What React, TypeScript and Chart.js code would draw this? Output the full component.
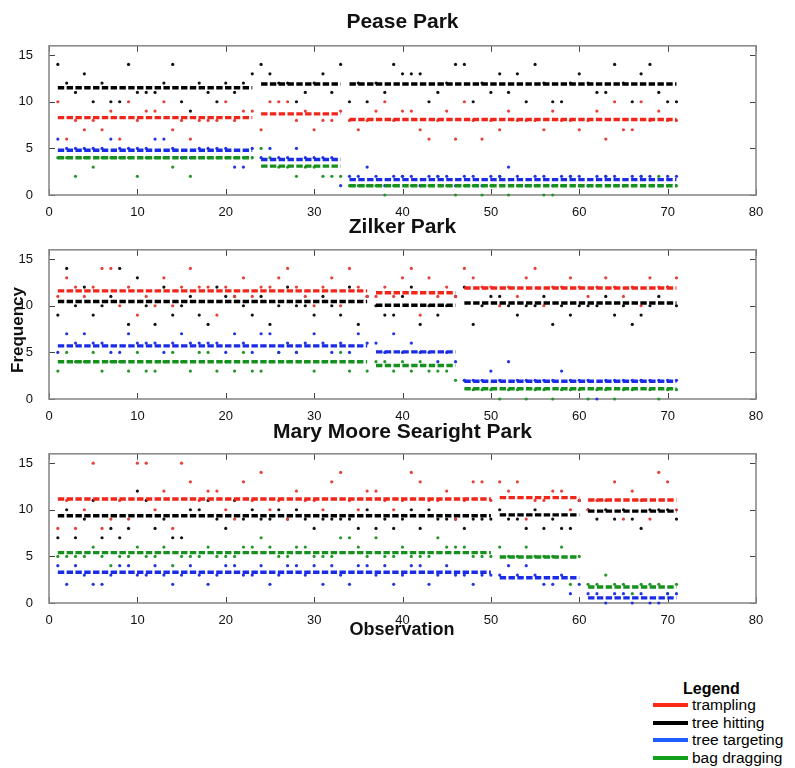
import React, { useEffect, useRef } from 'react';
import { Chart, registerables } from 'chart.js';

Chart.register(...registerables);

// ---------- data ----------
const OBSERVATIONS = Array.from({ length: 71 }, (_, i) => i + 1);
const X_TICKS = [0, 10, 20, 30, 40, 50, 60, 70, 80];
const Y_TICKS = [0, 5, 10, 15];
const SERIES_NAMES = ['trampling', 'tree hitting', 'tree targeting', 'bag dragging'];

// Pease Park
const peaseSegments = [[1, 23], [24, 33], [34, 71]];
const peaseTrampling = [10,6,8,7,8,7,9,6,10,8,9,9,10,7,8,6,8,8,8,10,8,9,9, 7,10,10,10,8,9,7,8,8,9, 8,7,8,9,10,8,9,9,7,6,8,9,6,10,8,6,8,7,9,8,8,8,7,9,8,8,7,8,9,6,10,7,7,10,8,9,8,8];
const peaseHitting = [14,12,11,13,10,12,10,10,14,11,11,11,12,14,10,9,12,11,10,12,11,12,13, 14,13,12,12,10,11,12,13,11,14, 10,12,10,12,11,14,13,13,13,10,11,12,14,14,10,12,11,13,11,13,10,14,12,10,10,12,13,12,11,11,14,12,10,13,14,11,10,10];
const peaseTargeting = [6,5,5,5,5,5,6,5,5,5,5,6,6,5,4,4,5,5,5,5,3,3,5, 4,5,4,4,5,4,4,4,4,1, 2,2,3,2,1,2,2,2,1,2,2,2,1,2,2,1,2,2,3,2,1,2,2,1,2,2,2,1,2,2,2,1,2,2,2,1,2,2];
const peaseDragging = [4,4,2,4,3,4,4,4,4,2,4,4,4,3,4,2,4,4,4,4,4,4,4, 5,4,3,3,2,3,3,2,2,2, 1,1,1,1,0,1,2,1,1,1,2,1,0,1,1,0,1,2,0,1,1,1,0,0,1,2,1,1,1,2,1,1,1,2,1,2,1,1];
const peaseTramplingMeans = [8.3, 8.7, 8.1];
const peaseHittingMeans = [11.5, 11.9, 11.9];
const peaseTargetingMeans = [4.8, 3.8, 1.65];
const peaseDraggingMeans = [4.0, 3.1, 1.0];

// Zilker Park
const zilkerSegments = [[1, 36], [37, 46], [47, 71]];
const zilkerTrampling = [11,13,12,11,12,14,14,10,12,9,11,10,13,10,12,14,12,12,9,12,11,13,11,12,12,13,14,12,11,10,12,13,10,14,12,11, 11,12,11,13,14,9,13,11,12,11, 14,13,12,12,10,12,11,13,14,10,12,12,13,12,11,12,13,12,11,12,10,13,12,12,13];
const zilkerHitting = [9,14,10,12,9,10,11,14,8,13,10,8,12,9,10,11,9,8,12,11,11,10,9,11,8,10,12,10,10,9,11,10,9,12,8,11, 10,9,9,11,12,8,10,9,10,11, 12,8,10,11,11,10,9,10,10,11,8,10,9,10,10,10,11,9,10,8,9,10,11,12,10];
const zilkerTargeting = [5,7,6,7,6,6,5,5,7,6,6,6,5,6,7,6,6,6,6,5,7,6,5,7,7,5,6,5,6,7,6,5,6,5,7,6, 6,5,7,5,6,5,5,4,5,4, 2,2,2,3,2,4,2,2,2,2,2,3,2,2,2,0,2,2,2,2,2,2,2,2,2];
const zilkerDragging = [3,5,4,4,5,3,4,4,3,5,3,3,4,5,4,3,5,5,3,4,3,5,3,3,4,5,4,5,4,3,4,4,5,3,4,3, 4,4,3,4,3,4,3,3,3,2, 2,1,1,1,0,1,1,0,1,1,0,1,1,1,0,1,1,0,1,1,2,1,0,1,1];
const zilkerTramplingMeans = [11.6, 11.4, 11.9];
const zilkerHittingMeans = [10.45, 10.05, 10.3];
const zilkerTargetingMeans = [5.7, 5.05, 1.9];
const zilkerDraggingMeans = [4.0, 3.6, 1.1];

// Mary Moore Searight Park
const marySegments = [[1, 50], [51, 60], [61, 71]];
const maryTrampling = [8,11,8,10,15,8,9,11,9,15,15,10,12,8,15,13,11,12,12,10,9,13,11,14,10,11,9,12,11,11,10,13,14,11,10,12,12,11,10,11,14,13,11,11,12,9,11,13,13,11, 13,12,13,9,11,11,12,12,10,11, 10,11,11,13,9,12,11,9,14,13,10];
const maryHitting = [7,10,7,9,11,7,8,7,8,12,11,8,9,7,7,10,10,11,9,8,11,9,10,9,9,10,9,10,9,8,9,9,9,9,8,10,8,9,8,9,10,8,10,9,9,9,8,9,9,9, 10,9,9,8,10,8,9,8,8,11, 10,9,10,9,10,9,8,10,10,10,9];
const maryTargeting = [4,2,4,3,2,2,3,4,4,3,3,4,3,2,3,4,3,2,3,4,4,3,3,4,2,3,4,4,3,4,2,4,3,2,4,4,3,4,2,3,4,4,2,3,4,3,3,2,3,3, 3,4,3,4,3,2,2,3,1,2, 1,1,0,1,1,0,1,0,0,1,1];
const maryDragging = [5,5,5,5,6,5,4,5,5,6,5,5,6,4,5,5,5,6,5,5,5,6,6,7,6,5,5,6,6,5,5,5,7,7,6,5,7,5,5,6,5,5,5,7,6,6,6,5,5,5, 6,5,5,6,5,5,5,6,2,5, 2,2,3,2,2,1,2,2,2,1,2];
const maryTramplingMeans = [11.15, 11.3, 11.05];
const maryHittingMeans = [9.35, 9.45, 9.85];
const maryTargetingMeans = [3.3, 2.7, 0.55];
const maryDraggingMeans = [5.4, 4.93, 1.72];

// ---------- styling ----------
const LINE_COLORS = ['#f0261a', '#000000', '#1a2ce6', '#16911e'];
const POINT_COLORS = ['#e8403a', '#111111', '#2236e0', '#26962a'];
const LEGEND_COLORS = ['#ff2a14', '#000000', '#1f5cff', '#12a01e'];
const FONT = 'Arial, "Liberation Sans", Helvetica, sans-serif';

const framePlugin = {
  id: 'frame',
  beforeDatasetsDraw(chart: any) {
    const { ctx, chartArea, scales } = chart;
    const { left, right, top, bottom } = chartArea;
    ctx.save();
    ctx.strokeStyle = '#444';
    ctx.lineWidth = 1;
    ctx.beginPath();
    for (const t of scales.x.ticks) {
      const px = Math.round(scales.x.getPixelForValue(t.value)) + 0.5;
      ctx.moveTo(px, bottom); ctx.lineTo(px, bottom - 6);
      ctx.moveTo(px, top); ctx.lineTo(px, top + 6);
    }
    for (const t of scales.y.ticks) {
      const py = Math.round(scales.y.getPixelForValue(t.value)) + 0.5;
      ctx.moveTo(left, py); ctx.lineTo(left + 6, py);
      ctx.moveTo(right, py); ctx.lineTo(right - 6, py);
    }
    ctx.stroke();
    ctx.strokeStyle = '#8a8a8a';
    ctx.lineWidth = 1.6;
    ctx.strokeRect(left, top, right - left, bottom - top);
    ctx.restore();
  },
};

type PanelProps = {
  top: number;
  series: number[][];
  means: number[][];
  segments: number[][];
};

const CANVAS_H = 195;

function Panel({ top, series, means, segments }: PanelProps) {
  const ref = useRef<HTMLCanvasElement>(null);
  useEffect(() => {
    if (!ref.current) return;
    const datasets: any[] = [];
    series.forEach((vals, si) => {
      datasets.push({
        label: SERIES_NAMES[si],
        data: OBSERVATIONS.map((o, i) => ({ x: o, y: vals[i] })),
        pointRadius: 1.6,
        pointBorderWidth: 0,
        pointBackgroundColor: POINT_COLORS[si],
        backgroundColor: POINT_COLORS[si],
        showLine: false,
        clip: false,
        order: 2,
      });
    });
    means.forEach((ms, si) => {
      ms.forEach((m, k) => {
        datasets.push({
          label: SERIES_NAMES[si] + ' mean ' + (k + 1),
          data: [{ x: segments[k][0], y: m }, { x: segments[k][1], y: m }],
          showLine: true,
          borderColor: LINE_COLORS[si],
          borderWidth: 3.4,
          borderDash: [6.4, 2.4],
          borderCapStyle: 'butt',
          pointRadius: 0,
          clip: false,
          order: 1,
        });
      });
    });
    const chart = new Chart(ref.current, {
      type: 'scatter',
      data: { datasets },
      plugins: [framePlugin],
      options: {
        animation: false,
        responsive: false,
        maintainAspectRatio: false,
        layout: { padding: { top: 10, right: 39, left: 0, bottom: 0 } },
        plugins: { legend: { display: false }, tooltip: { enabled: false } },
        scales: {
          x: {
            type: 'linear',
            min: 0,
            max: 80,
            afterBuildTicks: (s: any) => { s.ticks = X_TICKS.map((v) => ({ value: v })); },
            ticks: { padding: 2, color: '#111', font: { size: 13, family: FONT } },
            grid: { display: false },
            border: { display: false },
            afterFit: (s: any) => { s.height = 30; },
          },
          y: {
            type: 'linear',
            min: 0,
            max: 16,
            afterBuildTicks: (s: any) => { s.ticks = Y_TICKS.map((v) => ({ value: v })); },
            ticks: { padding: 8, color: '#111', font: { size: 13, family: FONT } },
            grid: { display: false },
            border: { display: false },
            afterFit: (s: any) => { s.width = 49; },
          },
        },
      } as any,
    });
    return () => chart.destroy();
  }, []);
  return (
    <canvas
      ref={ref}
      width={795}
      height={CANVAS_H}
      style={{ position: 'absolute', left: 0, top, width: 795, height: CANVAS_H, display: 'block' }}
    />
  );
}

const titleStyle = (top: number): React.CSSProperties => ({
  position: 'absolute',
  left: 49,
  width: 707,
  top,
  textAlign: 'center',
  font: `bold 21px ${FONT}`,
  lineHeight: '21px',
  color: '#111',
  whiteSpace: 'nowrap',
});

export default function App() {
  return (
    <div style={{ position: 'absolute', left: 0, top: 0, width: 795, height: 768, background: '#fff', fontFamily: FONT }}>
      <Panel
        top={30}
        series={[peaseTrampling, peaseHitting, peaseTargeting, peaseDragging]}
        means={[peaseTramplingMeans, peaseHittingMeans, peaseTargetingMeans, peaseDraggingMeans]}
        segments={peaseSegments}
      />
      <Panel
        top={234}
        series={[zilkerTrampling, zilkerHitting, zilkerTargeting, zilkerDragging]}
        means={[zilkerTramplingMeans, zilkerHittingMeans, zilkerTargetingMeans, zilkerDraggingMeans]}
        segments={zilkerSegments}
      />
      <Panel
        top={438}
        series={[maryTrampling, maryHitting, maryTargeting, maryDragging]}
        means={[maryTramplingMeans, maryHittingMeans, maryTargetingMeans, maryDraggingMeans]}
        segments={marySegments}
      />

      <div style={titleStyle(10)}>Pease Park</div>
      <div style={titleStyle(215)}>Zilker Park</div>
      <div style={titleStyle(420)}>Mary Moore Searight Park</div>

      <div
        style={{
          position: 'absolute',
          left: 18 - 60,
          top: 330 - 10,
          width: 120,
          height: 20,
          lineHeight: '20px',
          textAlign: 'center',
          transform: 'rotate(-90deg)',
          font: `bold 17px ${FONT}`,
          color: '#111',
        }}
      >
        Frequency
      </div>
      <div
        style={{
          position: 'absolute',
          left: 302,
          width: 200,
          top: 619,
          height: 20,
          lineHeight: '20px',
          textAlign: 'center',
          font: `bold 18px ${FONT}`,
          color: '#111',
        }}
      >
        Observation
      </div>

      <div
        style={{
          position: 'absolute',
          left: 683,
          top: 680,
          lineHeight: '18px',
          font: `bold 16px ${FONT}`,
          color: '#000',
        }}
      >
        Legend
      </div>
      {SERIES_NAMES.map((name, i) => (
        <div
          key={name}
          style={{
            position: 'absolute',
            left: 653,
            top: 696 + i * 17.6,
            height: 18,
            display: 'flex',
            alignItems: 'center',
            whiteSpace: 'nowrap',
          }}
        >
          <div style={{ width: 35, height: 4, background: LEGEND_COLORS[i], marginRight: 4 }} />
          <span style={{ font: `15.5px ${FONT}`, color: '#000', lineHeight: '18px' }}>{name}</span>
        </div>
      ))}
    </div>
  );
}
